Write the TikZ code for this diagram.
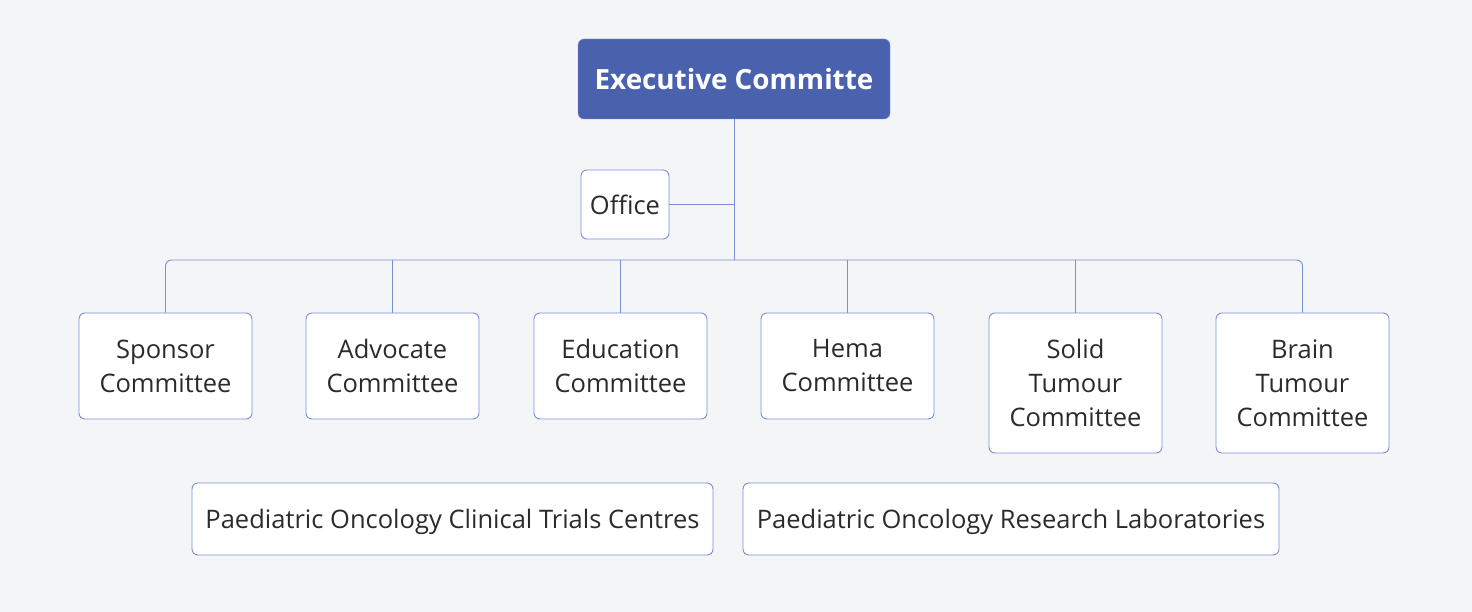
\documentclass[tikz,border=0pt]{standalone}
\usepackage{fontspec}
\setmainfont{Open Sans}
\definecolor{bgcol}{HTML}{F3F5F7}
\definecolor{headcol}{HTML}{4A62AD}
\definecolor{edgecol}{HTML}{7B8EDC}
\definecolor{textcol}{HTML}{2B2B2B}
\tikzset{
  unitbox/.style={draw=edgecol, line width=0.9pt, fill=white, rounded corners=6pt,
    align=center, text=textcol, font=\fontsize{25.5}{34}\selectfont, inner sep=0pt},
  headbox/.style={fill=headcol, draw=edgecol, rounded corners=6pt, text=white,
    font=\fontsize{27.8}{30}\selectfont\bfseries, inner sep=0pt},
  link/.style={draw=edgecol, line width=0.9pt}
}
\begin{document}
\begin{tikzpicture}[x=1pt,y=-1pt]
\fill[bgcol] (0,0) rectangle (1472,612);
\useasboundingbox (0,0) rectangle (1472,612);
% top of the chart
\node[headbox, minimum width=312pt, minimum height=80pt] (exec) at (734,79) {Executive Committe};
\node[unitbox, minimum width=88pt, minimum height=69pt] (office) at (625,204.5) {Office};
\coordinate (bus) at (734,260);
% committees
\node[unitbox, minimum width=173pt, minimum height=106pt] (sponsor) at (165.5,366) {Sponsor\\Committee};
\node[unitbox, minimum width=173pt, minimum height=106pt] (advocate) at (392.5,366) {Advocate\\Committee};
\node[unitbox, minimum width=173pt, minimum height=106pt] (education) at (620.5,366) {Education\\Committee};
\node[unitbox, minimum width=173pt, minimum height=106pt] (hema) at (847.5,366) {Hema\\Committee};
\node[unitbox, minimum width=173pt, minimum height=140pt] (solid) at (1075.5,383) {Solid\\Tumour\\Committee};
\node[unitbox, minimum width=173pt, minimum height=140pt] (brain) at (1302.5,383) {Brain\\Tumour\\Committee};
% centres and labs, not linked
\node[unitbox, text depth=0pt, minimum width=521pt, minimum height=72pt] (centres) at (452.5,519) {Paediatric Oncology Clinical Trials Centres};
\node[unitbox, text depth=0pt, minimum width=536pt, minimum height=72pt] (labs) at (1011,519) {Paediatric Oncology Research Laboratories};
% links
\draw[link] (exec.south) -- (bus);
\draw[link] (office.east) -- (office.east -| bus);
\draw[link, rounded corners=6pt] (sponsor.north) |- (bus) -| (brain.north);
\foreach \n in {advocate,education,hema,solid}
  \draw[link] (\n.north) -- (\n.north |- bus);
\end{tikzpicture}
\end{document}
